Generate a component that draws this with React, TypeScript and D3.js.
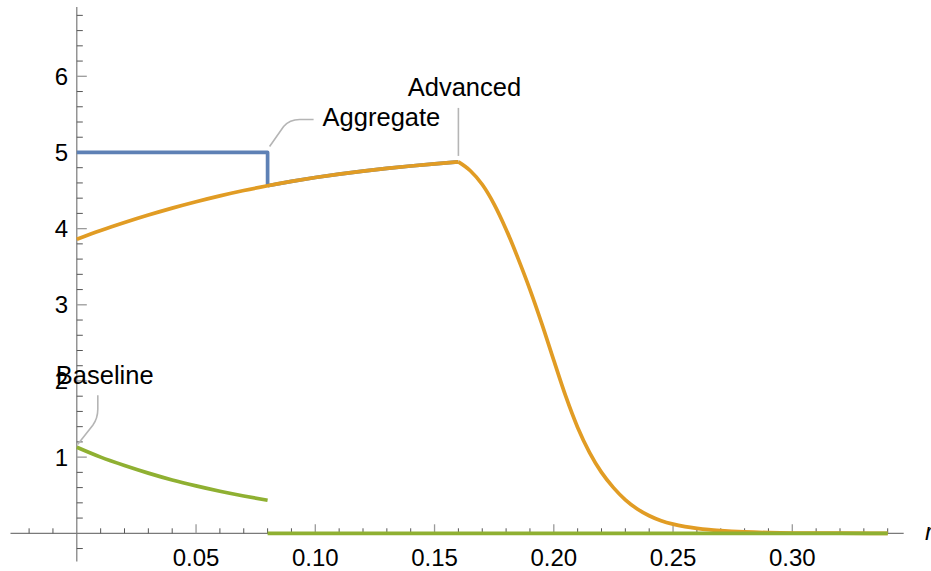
import React from 'react';
import * as d3 from 'd3';

// Advanced: rising part up to the kink at r = 0.16, then the drop-off
const advRiseR = [0, 0.01, 0.02, 0.03, 0.04, 0.05, 0.06, 0.07, 0.08, 0.09, 0.10, 0.11, 0.12, 0.13, 0.14, 0.15, 0.16];
const advRiseV = [3.86, 3.975, 4.08, 4.178, 4.269, 4.353, 4.43, 4.5, 4.563, 4.62, 4.671, 4.716, 4.756, 4.791, 4.822, 4.85, 4.876];
const advFallR = [0.16, 0.165, 0.17, 0.175, 0.18, 0.185, 0.19, 0.195, 0.20, 0.205, 0.21, 0.215, 0.22, 0.225, 0.23, 0.235, 0.24, 0.245, 0.25, 0.255, 0.26, 0.265, 0.27, 0.28, 0.29, 0.30, 0.32, 0.34];
const advFallV = [4.876, 4.76, 4.58, 4.32, 3.99, 3.61, 3.2, 2.75, 2.27, 1.8, 1.39, 1.06, 0.8, 0.6, 0.44, 0.32, 0.23, 0.165, 0.12, 0.088, 0.065, 0.048, 0.036, 0.019, 0.009, 0.004, 0.001, 0];

// Aggregate: flat at 5 until the switch
const aggStepR = [0, 0.08, 0.08];
const aggStepV = [5, 5, 4.563];

// Baseline
const baseR = [0, 0.01, 0.02, 0.03, 0.04, 0.05, 0.06, 0.07, 0.08];
const baseV = [1.13, 1.0, 0.89, 0.79, 0.7, 0.622, 0.552, 0.49, 0.434];
const baseZeroR = [0.08, 0.34];
const baseZeroV = [0, 0];

const xMajor = [0.05, 0.10, 0.15, 0.20, 0.25, 0.30];
const yMajor = [1, 2, 3, 4, 5, 6];

const W = 931;
const H = 571;
const FONT = '"Liberation Sans", Arial, sans-serif';

const BLUE = '#5E81B5';
const ORANGE = '#E19C24';
const GREEN = '#8FB032';
const LEADER = '#b5b5b5';

type Pt = [number, number];
const zip = (r: number[], v: number[]): Pt[] => r.map((x, i) => [x, v[i]]);

export default function App() {
  const x = d3.scaleLinear().domain([0, 0.3]).range([76.8, 792.3]);
  const y = d3.scaleLinear().domain([0, 6]).range([533.3, 76.3]);

  const smooth = d3.line<Pt>().x(d => x(d[0])).y(d => y(d[1])).curve(d3.curveMonotoneX);
  const straight = d3.line<Pt>().x(d => x(d[0])).y(d => y(d[1]));

  const xMinor = d3.range(-2, 35).map(i => i / 100).filter(v => Math.abs(v) > 1e-9 && Math.round(v * 100) % 5 !== 0);
  const yMinor = d3.range(-1, 35).map(i => i / 5).filter(v => Math.abs(v) > 1e-9 && Math.abs(v - Math.round(v)) > 1e-9);

  const rise = zip(advRiseR, advRiseV);
  const fall = zip(advFallR, advFallV);
  const aggTail = rise.filter(d => d[0] >= 0.08);

  // annotation anchors in data space
  const aggA: Pt = [x(0.08), y(5)];
  const advA: Pt = [x(0.16), y(4.876)];
  const baseA: Pt = [x(0), y(1.13)];

  const axisColor = '#7a7a7a';

  return (
    <svg width={W} height={H} style={{ position: 'absolute', left: 0, top: 0, background: '#fff' }}>
      {/* axes */}
      <line x1={x(-0.0278)} x2={x(0.3467)} y1={y(0)} y2={y(0)} stroke={axisColor} strokeWidth={1.2} />
      <line x1={x(0)} x2={x(0)} y1={y(-0.37)} y2={y(6.91)} stroke={axisColor} strokeWidth={1.2} />
      {xMinor.map(v => (
        <line key={'xm' + v} x1={x(v)} x2={x(v)} y1={y(0)} y2={y(0) - 5} stroke="#555" strokeWidth={1} />
      ))}
      {xMajor.map(v => (
        <g key={'xM' + v}>
          <line x1={x(v)} x2={x(v)} y1={y(0)} y2={y(0) - 9} stroke="#9a9a9a" strokeWidth={1.3} />
          <text x={x(v)} y={566} textAnchor="middle" fontFamily={FONT} fontSize={24} fill="#000">
            {d3.format('.2f')(v)}
          </text>
        </g>
      ))}
      {yMinor.map(v => (
        <line key={'ym' + v} x1={x(0)} x2={x(0) + 6} y1={y(v)} y2={y(v)} stroke="#555" strokeWidth={1} />
      ))}
      {yMajor.map(v => (
        <g key={'yM' + v}>
          <line x1={x(0)} x2={x(0) + 10} y1={y(v)} y2={y(v)} stroke="#9a9a9a" strokeWidth={1.3} />
          <text x={68} y={y(v) + 8.5} textAnchor="end" fontFamily={FONT} fontSize={24} fill="#000">
            {v}
          </text>
        </g>
      ))}
      <text x={925} y={540} fontFamily={FONT} fontStyle="italic" fontSize={24} fill="#000">r</text>

      {/* series */}
      <g fill="none" strokeWidth={3.7} strokeLinejoin="round">
        <path d={straight(zip(aggStepR, aggStepV)) || ''} stroke={BLUE} />
        <path d={smooth(aggTail) || ''} stroke={BLUE} />
        <path d={smooth(rise) || ''} stroke={ORANGE} />
        <path d={smooth(fall) || ''} stroke={ORANGE} />
        <path d={smooth(zip(baseR, baseV)) || ''} stroke={GREEN} />
        <path d={straight(zip(baseZeroR, baseZeroV)) || ''} stroke={GREEN} />
      </g>

      {/* callouts */}
      <g fill="none" stroke={LEADER} strokeWidth={1.6}>
        <path d={`M${aggA[0] + 2},${aggA[1] - 6} L${aggA[0] + 16},${aggA[1] - 26} Q${aggA[0] + 22},${aggA[1] - 33} ${aggA[0] + 32},${aggA[1] - 33} L${aggA[0] + 46},${aggA[1] - 33}`} />
        <path d={`M${advA[0]},${advA[1] - 6} L${advA[0]},${advA[1] - 54}`} />
        <path d={`M${baseA[0] + 1},${baseA[1] - 3} L${baseA[0] + 16},${baseA[1] - 22} Q${baseA[0] + 21},${baseA[1] - 29} ${baseA[0] + 21},${baseA[1] - 38} L${baseA[0] + 21},${baseA[1] - 52}`} />
      </g>
      <g fontFamily={FONT} fontSize={25.5} fill="#000">
        <text x={aggA[0] + 55} y={aggA[1] - 26}>Aggregate</text>
        <text x={advA[0] + 6} y={advA[1] - 66} textAnchor="middle">Advanced</text>
        <text x={baseA[0] - 21} y={baseA[1] - 63}>Baseline</text>
      </g>
    </svg>
  );
}
